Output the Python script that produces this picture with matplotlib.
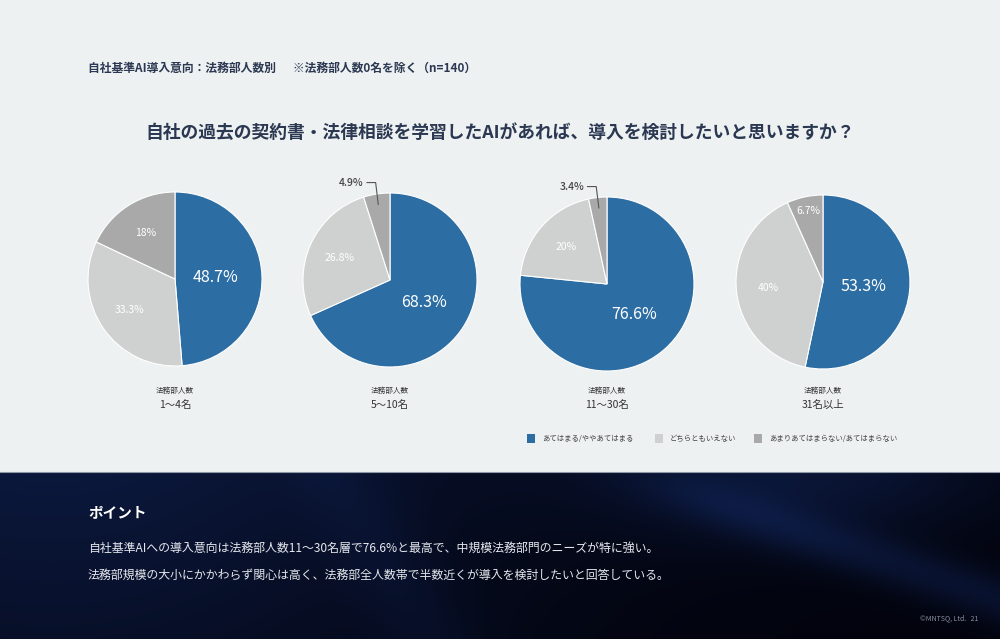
"""
AI導入意向（法務部人数別）の円グラフ4枚。out.png に保存。
"""
import numpy as np
import matplotlib
matplotlib.use("Agg")
import matplotlib.pyplot as plt
from matplotlib.patches import Rectangle

plt.rcParams["font.family"] = ["Noto Sans CJK JP", "DejaVu Sans"]

# --- data ---
groups = ["1〜4名", "5〜10名", "11〜30名", "31名以上"]
answers = ["あてはまる/ややあてはまる", "どちらともいえない", "あまりあてはまらない/あてはまらない"]
yes_pct = [48.7, 68.3, 76.6, 53.3]
neutral_pct = [33.3, 26.8, 20.0, 40.0]
no_pct = [18.0, 4.9, 3.4, 6.7]
pct_labels = [
    ["48.7%", "33.3%", "18%"],
    ["68.3%", "26.8%", "4.9%"],
    ["76.6%", "20%", "3.4%"],
    ["53.3%", "40%", "6.7%"],
]

HEADER = "自社基準AI導入意向：法務部人数別　  ※法務部人数0名を除く（n=140）"
TITLE = "自社の過去の契約書・法律相談を学習したAIがあれば、導入を検討したいと思いますか？"
POINT_LINES = [
    "自社基準AIへの導入意向は法務部人数11〜30名層で76.6%と最高で、中規模法務部門のニーズが特に強い。",
    "法務部規模の大小にかかわらず関心は高く、法務部全人数帯で半数近くが導入を検討したいと回答している。",
]

BLUE = "#2c6ea4"
LIGHT = "#cfd0d0"
DARK = "#a9a9a9"
COLORS = [BLUE, LIGHT, DARK]
BG = "#eef1f1"
NAVY_TXT = "#2b3852"

W, H = 1000, 639
fig = plt.figure(figsize=(W / 100, H / 100), dpi=100)
fig.patch.set_facecolor(BG)

# background axes in pixel coordinates
bg = fig.add_axes([0, 0, 1, 1])
bg.axis("off")

# dark bottom panel: navy on the left, near black in the middle, blue streak top right
yy, xx = np.mgrid[0:1:90j, 0:1:300j]
glow_left = 0.6 * np.exp(-((xx - 0.05) / 0.45) ** 2) * (1 - 0.4 * yy)
glow_tr = 0.5 * np.exp(-(((xx - 0.8) / 0.2) ** 2 + (yy / 0.4) ** 2))
dist = (yy - (xx - 0.62) * 2.0) / np.sqrt(1 + 4.0)
fade = 1 / (1 + np.exp(-(xx - 0.68) / 0.04))
streak = 0.4 * np.exp(-(dist / 0.07) ** 2) * fade
band = 0.15 * np.exp(-((xx - 0.33 - 0.1 * yy) / 0.05) ** 2)
grad = np.clip(glow_left + glow_tr + streak + band, 0, 1)
c0 = np.array([0.008, 0.012, 0.05])
c1 = np.array([0.07, 0.15, 0.36])
img = c0 + grad[..., None] * (c1 - c0)
bg.imshow(img, extent=[0, W, H, 472], aspect="auto", zorder=0, interpolation="bilinear")
bg.plot([0, W], [472, 472], color="#8e97a8", linewidth=0.8, zorder=1)
bg.set_xlim(0, W)
bg.set_ylim(H, 0)

bg.text(88, 68, HEADER, fontsize=8.5, fontweight="bold", color=NAVY_TXT, va="center")
bg.text(500, 133, TITLE, fontsize=12.8, fontweight="bold", color=NAVY_TXT,
        ha="center", va="center")

bg.text(88, 512, "ポイント", fontsize=10.5, fontweight="bold", color="white", va="center")
for i, line in enumerate(POINT_LINES):
    bg.text(88, 548 + 27 * i, line, fontsize=8.6, color="#e6e8ee", va="center")
bg.text(920, 618, "©MNTSQ, Ltd.   21", fontsize=5, color="#8a8fa0", va="center")

# pies
centers = [(175, 279), (390, 280), (607, 284), (823, 282)]
R = 87
for k, (cx, cy) in enumerate(centers):
    ax = fig.add_axes([(cx - R) / W, (H - (cy + R)) / H, 2 * R / W, 2 * R / H])
    vals = [yes_pct[k], neutral_pct[k], no_pct[k]]
    wedges, _ = ax.pie(vals, colors=COLORS, startangle=90, counterclock=False,
                       wedgeprops=dict(edgecolor="white", linewidth=0.8))
    ax.set_xlim(-1, 1)
    ax.set_ylim(-1, 1)
    for j, w in enumerate(wedges):
        mid = np.deg2rad((w.theta1 + w.theta2) / 2)
        if j == 0:
            d, fs = 0.47, 11.5
        elif vals[j] < 6:
            d, fs = None, 7.5
        elif vals[j] < 10:
            d, fs = 0.83, 7.5
        else:
            d, fs = 0.63, 7.5
        if d is not None:
            ax.text(d * np.cos(mid), d * np.sin(mid), pct_labels[k][j], fontsize=fs,
                    color="white", ha="center", va="center")
        else:
            px, py = 0.88 * np.cos(mid), 0.88 * np.sin(mid)
            ty = 1.12
            ax.plot([px, px - 0.03, px - 0.13], [py, ty, ty], color="#555555",
                    linewidth=0.8, clip_on=False)
            ax.text(px - 0.17, ty, pct_labels[k][j], fontsize=fs, color="#444444",
                    fontweight="medium", ha="right", va="center", clip_on=False)
    bg.text(cx, 391, "法務部人数", fontsize=5.5, color="#333333", ha="center", va="center")
    bg.text(cx, 405, groups[k], fontsize=7.5, color="#333333", ha="center", va="center")

# legend
leg_x = [527, 655, 754]
for x, c, lab in zip(leg_x, COLORS, answers):
    bg.add_patch(Rectangle((x, 434), 8, 9, facecolor=c, edgecolor="none"))
    bg.text(x + 15, 438.5, lab, fontsize=5.3, color="#444444", va="center")

fig.savefig("out.png", dpi=100, facecolor=fig.get_facecolor())
